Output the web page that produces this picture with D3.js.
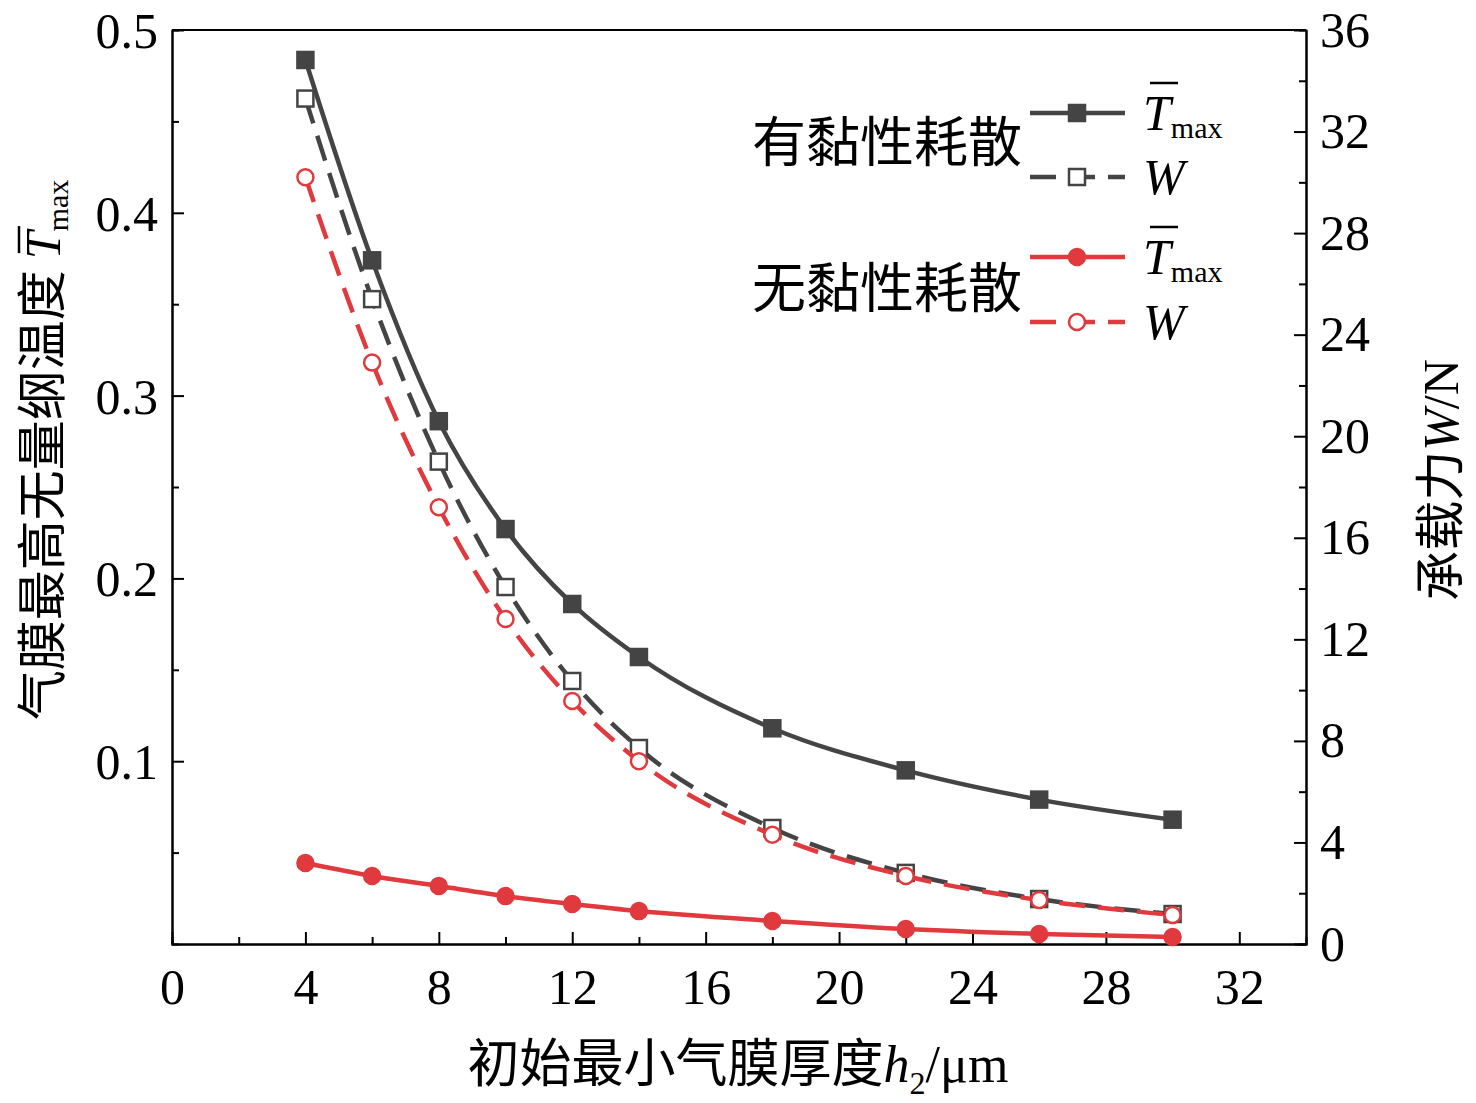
<!DOCTYPE html>
<html><head><meta charset="utf-8">
<script src="https://cdn.jsdelivr.net/npm/d3@7"></script>
<style>body{margin:0;background:#fff}text{font-family:"Liberation Serif","Noto Sans CJK SC",serif}</style>
</head><body><svg id="chart" width="1476" height="1103"></svg>
<script>
var xs = [4, 6, 8, 10, 12, 14, 18, 22, 26, 30];
var tViscous = [0.4836, 0.374, 0.286, 0.227, 0.186, 0.157, 0.118, 0.095, 0.079, 0.068];
var wViscous = [33.3, 25.4, 19.0, 14.06, 10.36, 7.72, 4.57, 2.8, 1.77, 1.18];
var tNoVisc = [0.0443, 0.0372, 0.0317, 0.0262, 0.0219, 0.018, 0.0126, 0.0082, 0.0055, 0.0038];
var wNoVisc = [30.2, 22.9, 17.2, 12.8, 9.57, 7.2, 4.3, 2.68, 1.73, 1.14];
var xTicks = [0, 4, 8, 12, 16, 20, 24, 28, 32];
var leftTicks = [0.1, 0.2, 0.3, 0.4, 0.5];
var rightTicks = [0, 4, 8, 12, 16, 20, 24, 28, 32, 36];

var svg = d3.select("#chart");
var L = 172, R = 1306, T = 30, B = 944;
var x = d3.scaleLinear().domain([0, 34]).range([L, R]);
var yl = d3.scaleLinear().domain([0, 0.5]).range([B, T]);
var yr = d3.scaleLinear().domain([0, 36]).range([B, T]);
var dark = "#444444", red = "#e0393e";
var serif = "Liberation Serif", cjk = "Noto Sans CJK SC";

svg.append("g").attr("transform", "translate(0," + B + ")")
  .call(d3.axisBottom(x).tickValues(xTicks).tickSizeInner(-12).tickSizeOuter(0).tickPadding(24));
svg.append("g").attr("transform", "translate(0," + B + ")")
  .call(d3.axisBottom(x).tickValues(d3.range(2, 34, 4)).tickSize(-7).tickFormat(""));
var gl = svg.append("g").attr("transform", "translate(" + L + ",0)")
  .call(d3.axisLeft(yl).tickValues(leftTicks).tickFormat(d3.format(".1f")).tickSizeInner(-12).tickSizeOuter(0).tickPadding(14));
svg.append("g").attr("transform", "translate(" + L + ",0)")
  .call(d3.axisLeft(yl).tickValues([0.05, 0.15, 0.25, 0.35, 0.45]).tickSize(-7).tickFormat(""));
svg.append("g").attr("transform", "translate(" + R + ",0)")
  .call(d3.axisRight(yr).tickValues(rightTicks).tickSizeInner(-12).tickSizeOuter(0).tickPadding(14));
svg.append("g").attr("transform", "translate(" + R + ",0)")
  .call(d3.axisRight(yr).tickValues(d3.range(2, 36, 4)).tickSize(-7).tickFormat(""));
svg.append("line").attr("x1", L).attr("x2", R).attr("y1", T).attr("y2", T).attr("stroke", "#000").attr("stroke-width", 2);
svg.selectAll(".domain").attr("stroke-width", 2);
svg.selectAll(".tick line").attr("stroke-width", 2);
svg.selectAll(".tick text").attr("font-size", 50).attr("font-family", serif).attr("fill", "#000");
gl.selectAll(".tick text").attr("dy", "0.35em");

function series(vals, ys, color, dash, filled, shape) {
  var pts = xs.map(function(d, i) { return [x(d), ys(vals[i])]; });
  svg.append("path").attr("d", d3.line().curve(d3.curveMonotoneX)(pts))
    .attr("fill", "none").attr("stroke", color).attr("stroke-width", 4.5)
    .attr("stroke-dasharray", dash ? "26,13" : null);
  pts.forEach(function(p) {
    if (shape === "sq") svg.append("rect").attr("x", p[0] - 8).attr("y", p[1] - 8).attr("width", 16).attr("height", 16)
      .attr("fill", filled ? color : "#fff").attr("stroke", color).attr("stroke-width", 2.5);
    else svg.append("circle").attr("cx", p[0]).attr("cy", p[1]).attr("r", 8)
      .attr("fill", filled ? color : "#fff").attr("stroke", color).attr("stroke-width", 2.5);
  });
}
series(wViscous, yr, dark, true, false, "sq");
series(wNoVisc, yr, red, true, false, "c");
series(tViscous, yl, dark, false, true, "sq");
series(tNoVisc, yl, red, false, true, "c");

var leg = [
  {y: 113, c: dark, dash: false, f: true, s: "sq", t: "T"},
  {y: 177, c: dark, dash: true, f: false, s: "sq", t: "W"},
  {y: 257, c: red, dash: false, f: true, s: "c", t: "T"},
  {y: 322, c: red, dash: true, f: false, s: "c", t: "W"}
];
leg.forEach(function(d) {
  svg.append("line").attr("x1", 1030).attr("x2", 1125).attr("y1", d.y).attr("y2", d.y)
    .attr("stroke", d.c).attr("stroke-width", 4.5).attr("stroke-dasharray", d.dash ? "26,13" : null);
  if (d.s === "sq") svg.append("rect").attr("x", 1069).attr("y", d.y - 8).attr("width", 16).attr("height", 16)
    .attr("fill", d.f ? d.c : "#fff").attr("stroke", d.c).attr("stroke-width", 2.5);
  else svg.append("circle").attr("cx", 1077).attr("cy", d.y).attr("r", 8)
    .attr("fill", d.f ? d.c : "#fff").attr("stroke", d.c).attr("stroke-width", 2.5);
  var t = svg.append("text").attr("x", 1143).attr("y", d.y + 17).attr("font-size", 50).attr("font-family", serif);
  t.append("tspan").attr("font-style", "italic").text(d.t);
  if (d.t === "T") {
    t.append("tspan").attr("font-size", 30).attr("dy", 8).text("max");
    svg.append("line").attr("x1", 1150).attr("x2", 1178).attr("y1", d.y - 30).attr("y2", d.y - 30).attr("stroke", "#000").attr("stroke-width", 2.5);
  }
});
svg.append("text").attr("x", 1022).attr("y", 162).attr("text-anchor", "end").attr("font-size", 54).attr("font-family", cjk).text("有黏性耗散");
svg.append("text").attr("x", 1022).attr("y", 308).attr("text-anchor", "end").attr("font-size", 54).attr("font-family", cjk).text("无黏性耗散");

var xt = svg.append("text").attr("x", 738).attr("y", 1082).attr("text-anchor", "middle").attr("font-size", 52).attr("font-family", serif);
xt.append("tspan").attr("font-family", cjk).text("初始最小气膜厚度");
xt.append("tspan").attr("font-style", "italic").text("h");
xt.append("tspan").attr("font-size", 32).attr("dy", 12).text("2");
xt.append("tspan").attr("dy", -12).text("/μm");

var yt = svg.append("text").attr("transform", "translate(60,450) rotate(-90)").attr("text-anchor", "middle").attr("font-size", 50).attr("font-family", serif);
yt.append("tspan").attr("font-family", cjk).text("气膜最高无量纲温度 ");
yt.append("tspan").attr("font-style", "italic").attr("id", "tt").text("T");
yt.append("tspan").attr("font-size", 30).attr("dy", 8).text("max");
var tb = document.getElementById("tt").getBBox();
svg.append("line").attr("x1", tb.x + 6).attr("x2", tb.x + tb.width + 2).attr("y1", tb.y + 4).attr("y2", tb.y + 4)
  .attr("stroke", "#000").attr("stroke-width", 2.5).attr("transform", "translate(60,450) rotate(-90)");

var rt = svg.append("text").attr("transform", "translate(1458,480) rotate(-90)").attr("text-anchor", "middle").attr("font-size", 50).attr("font-family", serif);
rt.append("tspan").attr("font-family", cjk).text("承载力");
rt.append("tspan").attr("font-style", "italic").attr("font-family", serif).text("W");
rt.append("tspan").attr("font-family", serif).text("/N");
</script></body></html>
